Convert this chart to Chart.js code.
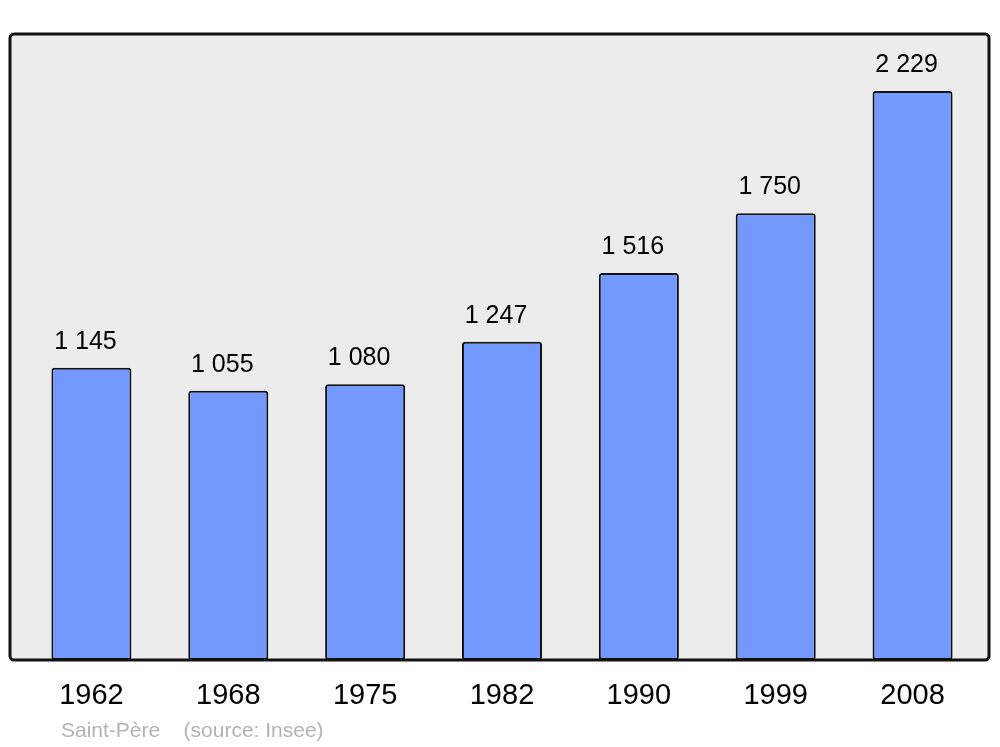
<!DOCTYPE html>
<html>
<head>
<meta charset="utf-8">
<script src="https://cdn.jsdelivr.net/npm/chart.js@4/dist/chart.umd.min.js"></script>
<style>
  html, body { margin: 0; padding: 0; background: #fff; }
  #wrap { width: 1000px; height: 747px; position: relative; }
</style>
</head>
<body>
<div id="wrap"><canvas id="c"></canvas></div>
<script>
// population of Saint-Père, census years
const YEARS = ['1962', '1968', '1975', '1982', '1990', '1999', '2008'];
const POPULATION = [1145, 1055, 1080, 1247, 1516, 1750, 2229];
const FOOTER = 'Saint-Père    (source: Insee)';

const FONT = '"Liberation Sans", Arial, sans-serif';

// frame behind the bars (slightly wider than the category span, like the original svg)
const framePlugin = {
  id: 'frame',
  beforeDraw(chart) {
    const { ctx, chartArea: a } = chart;
    ctx.save();
    ctx.beginPath();
    ctx.roundRect(a.left - 13, a.top, a.right - a.left + 21, a.bottom - a.top, 4);
    ctx.fillStyle = '#ececec';
    ctx.fill();
    ctx.restore();
  },
  afterDatasetsDraw(chart) {
    const { ctx, chartArea: a } = chart;
    ctx.save();
    ctx.beginPath();
    ctx.roundRect(a.left - 13, a.top, a.right - a.left + 21, a.bottom - a.top, 4);
    ctx.lineWidth = 3;
    ctx.strokeStyle = '#111';
    ctx.stroke();

    // value labels above each bar, space as thousands separator
    ctx.font = '25px ' + FONT;
    ctx.fillStyle = '#000';
    ctx.textAlign = 'center';
    ctx.textBaseline = 'middle';
    chart.getDatasetMeta(0).data.forEach((bar, i) => {
      const txt = String(POPULATION[i]).replace(/\B(?=(\d{3})+(?!\d))/g, ' ');
      ctx.fillText(txt, bar.x - 6, bar.y - 26);
    });

    ctx.font = '21px ' + FONT;
    ctx.fillStyle = '#b3b3b3';
    ctx.textAlign = 'left';
    ctx.fillText(FOOTER, 61, 731);
    ctx.restore();
  },
};

new Chart(document.getElementById('c'), {
  type: 'bar',
  data: {
    labels: YEARS,
    datasets: [{
      data: POPULATION,
      backgroundColor: '#7399ff',
      borderColor: '#111',
      borderWidth: 2,
      borderRadius: 3,
      borderSkipped: false,
      barPercentage: 0.585,
      categoryPercentage: 1,
    }],
  },
  options: {
    responsive: true,
    maintainAspectRatio: false,
    animation: false,
    layout: { padding: { left: 23, right: 19, top: 34, bottom: 0 } },
    plugins: { legend: { display: false }, tooltip: { enabled: false } },
    scales: {
      x: {
        grid: { display: false, drawTicks: false },
        border: { display: false },
        ticks: { color: '#000', font: { family: FONT, size: 29 }, padding: 19, maxRotation: 0 },
        afterFit: (s) => { s.height = 87; },
      },
      y: {
        display: false,
        min: 0,
        max: 2452,
      },
    },
  },
  plugins: [framePlugin],
});
</script>
</body>
</html>
